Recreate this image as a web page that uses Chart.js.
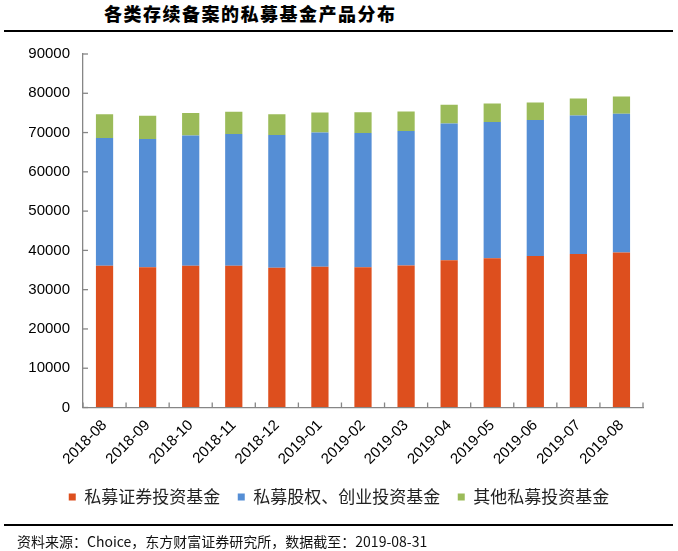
<!DOCTYPE html>
<html>
<head>
<meta charset="utf-8">
<script src="https://cdn.jsdelivr.net/npm/chart.js@4"></script>
<style>
  html, body { margin: 0; padding: 0; background: #fff; }
  body { width: 678px; height: 551px; position: relative; overflow: hidden; font-family: "Noto Sans CJK SC", sans-serif; }
  #title { position: absolute; left: 104px; top: 3px; font-size: 18px; font-weight: 900; letter-spacing: 1.5px; line-height: 20px; color: #000; }
  .rule { position: absolute; left: 4px; width: 669px; height: 1.5px; background: #000; }
  #wrap { position: absolute; left: 0; top: 32px; width: 678px; height: 519px; }
  #src { position: absolute; left: 17px; top: 532px; font-size: 14px; line-height: 18px; color: #111; }
</style>
</head>
<body>
<div id="title">各类存续备案的私募基金产品分布</div>
<div class="rule" style="top:30px"></div>
<div id="wrap"><canvas id="chart"></canvas></div>
<div class="rule" style="top:524px"></div>
<div id="src">资料来源：Choice，东方财富证券研究所，数据截至：2019-08-31</div>

<script>
const months = ['2018-08', '2018-09', '2018-10', '2018-11', '2018-12', '2019-01', '2019-02',
                '2019-03', '2019-04', '2019-05', '2019-06', '2019-07', '2019-08'];
const securities = [36060, 35730, 36060, 36060, 35550, 35810, 35730, 36140, 37520, 38030, 38540, 39050, 39460];
const equityVc   = [32560, 32630, 33170, 33580, 33840, 34190, 34170, 34270, 34780, 34680, 34680, 35290, 35300];
const others     = [6060, 5890, 5780, 5630, 5290, 5110, 5290, 4960, 4760, 4710, 4450, 4350, 4440];
const seriesNames = ['私募证券投资基金', '私募股权、创业投资基金', '其他私募投资基金'];
const colors = ['#DD4F1E', '#558ED5', '#9BBB59'];
const yMax = 90000;
const yStep = 10000;

const axisColor = '#868686';

// short tick marks pointing into the plot, like the original
const innerTicks = {
    id: 'innerTicks',
    afterDatasetsDraw(chart) {
        const { ctx, chartArea: a, scales: { x, y } } = chart;
        ctx.save();
        ctx.strokeStyle = axisColor;
        ctx.lineWidth = 1.3;
        y.ticks.forEach((t, i) => {
            const py = y.getPixelForTick(i);
            ctx.beginPath();
            ctx.moveTo(a.left, py);
            ctx.lineTo(a.left + 5, py);
            ctx.stroke();
        });
        const half = (x.getPixelForValue(1) - x.getPixelForValue(0)) / 2;
        for (let i = 0; i <= months.length; i++) {
            const px = x.getPixelForValue(0) - half + i * half * 2;
            ctx.beginPath();
            ctx.moveTo(px, a.bottom);
            ctx.lineTo(px, a.bottom - 5);
            ctx.stroke();
        }
        ctx.restore();
    }
};

new Chart(document.getElementById('chart'), {
    type: 'bar',
    data: {
        labels: months,
        datasets: [securities, equityVc, others].map((d, i) => ({
            label: seriesNames[i],
            data: d,
            backgroundColor: colors[i],
            borderWidth: 0,
            barPercentage: 0.4,
            categoryPercentage: 1
        }))
    },
    options: {
        responsive: true,
        maintainAspectRatio: false,
        animation: false,
        layout: { padding: { left: 0, right: 0, top: 6, bottom: 35.5 } },
        scales: {
            x: {
                stacked: true,
                grid: { display: true, drawOnChartArea: false, drawTicks: false },
                border: { color: axisColor, width: 1.3 },
                ticks: {
                    autoSkip: false, maxRotation: 45, minRotation: 45, padding: 9,
                    color: '#000', font: { family: 'Liberation Sans', size: 15 }
                },
                afterFit: s => { s.height = 63.5; }
            },
            y: {
                stacked: true,
                min: 0, max: yMax,
                grid: { display: true, drawOnChartArea: false, drawTicks: false },
                border: { color: axisColor, width: 1.3 },
                ticks: {
                    stepSize: yStep, padding: 13,
                    color: '#000', font: { family: 'Liberation Sans', size: 15 },
                    callback: v => String(v)
                },
                afterFit: s => { s.width = 83; }
            },
            // empty spacer on the right so the legend centres on the page
            spacer: {
                position: 'right',
                grid: { display: false },
                border: { display: false },
                ticks: { display: false },
                afterFit: s => { s.width = 35; }
            }
        },
        plugins: {
            legend: {
                position: 'bottom',
                labels: {
                    boxWidth: 7, boxHeight: 7, padding: 17.5,
                    color: '#222', font: { family: 'Noto Sans CJK SC', size: 17 }
                }
            },
            tooltip: { enabled: false }
        }
    },
    plugins: [innerTicks]
});
</script>
</body>
</html>
